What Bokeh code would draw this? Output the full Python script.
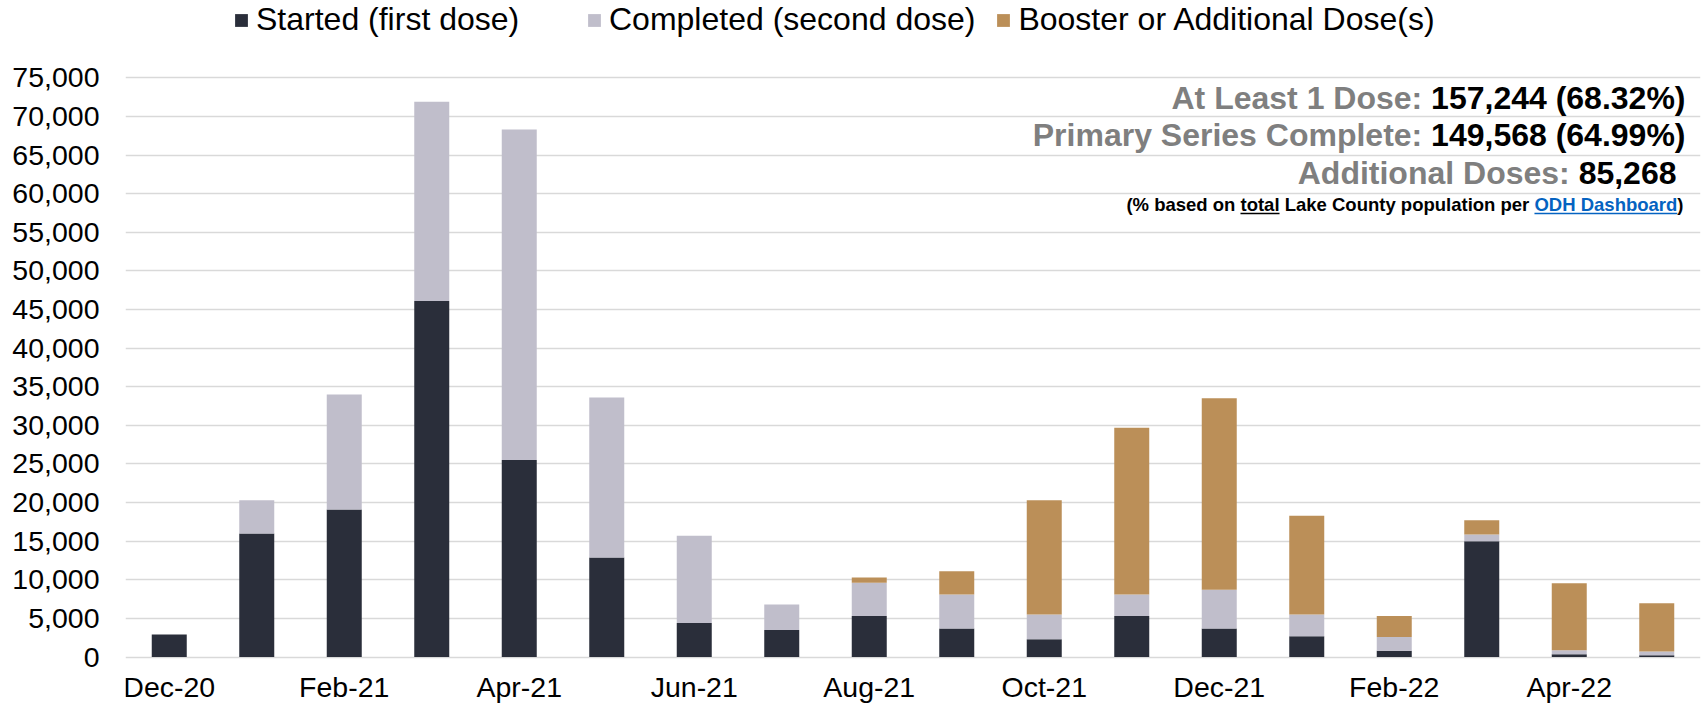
from bokeh.plotting import figure
from bokeh.models import ColumnDataSource, Range1d, FixedTicker, NumeralTickFormatter, Label
from bokeh.core.properties import value
from bokeh.embed import file_html
from bokeh.resources import INLINE

# ---------------- data ----------------
months = ["Dec-20", "Jan-21", "Feb-21", "Mar-21", "Apr-21", "May-21", "Jun-21", "Jul-21",
          "Aug-21", "Sep-21", "Oct-21", "Nov-21", "Dec-21", "Jan-22", "Feb-22", "Mar-22",
          "Apr-22", "May-22"]
started = [2900, 16000, 19100, 46100, 25500, 12900, 4400, 3500, 5300, 3700,
           2300, 5300, 3700, 2700, 800, 15000, 350, 220]
completed = [0, 4300, 14900, 25800, 42800, 20700, 11300, 3300, 4300, 4400,
             3200, 2800, 5000, 2800, 1800, 850, 520, 480]
booster = [0, 0, 0, 0, 0, 0, 0, 0, 700, 3000,
           14800, 21600, 24800, 12800, 2700, 1850, 8680, 6250]
series_names = ["Started (first dose)", "Completed (second dose)", "Booster or Additional Dose(s)"]
y_ticks = list(range(0, 75001, 5000))
x_tick_idx = list(range(0, len(months), 2))
x_tick_labels = [months[i] for i in x_tick_idx]

summary_labels = ["At Least 1 Dose:", "Primary Series Complete:", "Additional Doses:"]
summary_values = ["157,244 (68.32%)", "149,568 (64.99%)", "85,268"]
note_parts = [("(% based on", False, "#000000"), ("total", True, "#000000"),
              ("Lake County population per", False, "#000000"),
              ("ODH Dashboard", True, "#0563C1"), (")", False, "#000000")]

# ---------------- layout ----------------
W, H = 1707, 704
LEFT = 125
RIGHT = 7
FRAME_W = W - LEFT - RIGHT
Y_ZERO_PX = 656.5      # page y of value 0
Y_TOP_PX = 77.3        # page y of value 75,000
K = (Y_ZERO_PX - Y_TOP_PX) / 75000.0
Y0 = -(H - Y_ZERO_PX) / K
Y1 = 75000 + Y_TOP_PX / K
FONT = "Liberation Sans"
AX_SIZE = 28.5
SHIFT = 0.375          # empirical baseline correction (em)
colors = ["#2A2E3A", "#C0BECB", "#BB8F58"]

src = ColumnDataSource(dict(x=list(range(len(months))), started=started,
                            completed=completed, booster=booster))

p = figure(width=W, height=H, output_backend="svg", toolbar_location=None, title=None,
           x_range=Range1d(-0.5, len(months) - 0.5), y_range=Range1d(Y0, Y1),
           min_border_left=LEFT, min_border_right=RIGHT, min_border_top=0,
           min_border_bottom=0)
p.outline_line_color = None
p.background_fill_color = "white"
p.border_fill_color = "white"

p.vbar_stack(["started", "completed", "booster"], x="x", width=0.40, color=colors,
             line_color=None, source=src, legend_label=series_names)

# axes
yt = FixedTicker(ticks=y_ticks)
p.yaxis.ticker = yt
p.ygrid.ticker = yt
p.yaxis.formatter = NumeralTickFormatter(format="0,0")
p.ygrid.grid_line_color = "#D9D9D9"
p.ygrid.grid_line_width = 1.5
p.xgrid.visible = False
p.xaxis.visible = False
p.yaxis.axis_line_color = None
p.yaxis.major_tick_line_color = None
p.yaxis.minor_tick_line_color = None
p.yaxis.major_tick_out = 0
p.yaxis.major_tick_in = 0
p.yaxis.major_label_text_font = FONT
p.yaxis.major_label_text_font_size = f"{AX_SIZE}px"
p.yaxis.major_label_text_color = "#000000"
p.yaxis.major_label_standoff = 26


def px_x(page_x):
    return -0.5 + (page_x - LEFT) * len(months) / FRAME_W


def px_y(page_y):
    return (Y_ZERO_PX - page_y) / K


# category labels on the x axis (every second month)
xl_src = ColumnDataSource(dict(x=x_tick_idx, y=[px_y(697 - SHIFT * AX_SIZE)] * len(x_tick_idx),
                               text=x_tick_labels))
p.text(x="x", y="y", text="text", source=xl_src, text_align="center",
       text_baseline="alphabetic", text_font=value(FONT), text_font_size=f"{AX_SIZE}px",
       text_color="#000000")

# legend
leg = p.legend[0]
leg.orientation = "horizontal"
leg.location = (108, H - 38)
leg.label_text_font = FONT
leg.label_text_font_size = "32px"
leg.label_text_color = "#000000"
leg.glyph_width = 16
leg.glyph_height = 16
leg.label_standoff = 7
leg.label_width = 310
leg.spacing = 20
leg.padding = 0
leg.margin = 0
leg.border_line_color = None
leg.background_fill_alpha = 0

# ---------------- summary annotation ----------------
BOLD_W = {" ": 278, "!": 333, "(": 333, ")": 333, "%": 889, ",": 278, "-": 333, ".": 278,
          ":": 333, "A": 722, "B": 722, "C": 722, "D": 722, "E": 667, "F": 611, "G": 778,
          "H": 722, "I": 278, "L": 611, "O": 778, "P": 667, "S": 667, "a": 556, "b": 611,
          "c": 556, "d": 611, "e": 556, "f": 333, "g": 611, "h": 611, "i": 278, "k": 556,
          "l": 278, "m": 889, "n": 611, "o": 611, "p": 611, "r": 389, "s": 556, "t": 333,
          "u": 611, "v": 556, "w": 778, "x": 556, "y": 556}


def bold_width(s, size):
    return sum(BOLD_W.get(c, 556) for c in s) / 1000.0 * size


def bold_label(x_page, base_page, text, size, color):
    return Label(x=px_x(x_page), y=px_y(base_page - SHIFT * size), text=text,
                 text_align="right", text_baseline="alphabetic", text_font=FONT,
                 text_font_style="bold", text_font_size=f"{size}px", text_color=color)


rows = [(1685, 109.5), (1685, 146.5), (1676, 184.5)]
for (right, base), lab, val in zip(rows, summary_labels, summary_values):
    size = 32
    vw = bold_width(val, size)
    sp = bold_width(" ", size)
    p.add_layout(bold_label(right, base, val, size, "#000000"))
    p.add_layout(bold_label(right - vw - sp, base, lab, size, "#7F7F7F"))

note_size = 18.5
note_right = 1683
note_base = 210.5
cur = note_right
for i in range(len(note_parts) - 1, -1, -1):
    txt, underline, col = note_parts[i]
    w = bold_width(txt, note_size)
    p.add_layout(bold_label(cur, note_base, txt, note_size, col))
    if underline:
        uy = px_y(note_base + 2.5)
        p.segment(x0=[px_x(cur - w)], x1=[px_x(cur)], y0=[uy], y1=[uy],
                  line_color=col, line_width=1.5)
    cur = cur - w
    if i > 0 and txt != ")" and note_parts[i - 1][0] != "ODH Dashboard":
        cur -= bold_width(" ", note_size)

open("out.html", "w").write(file_html(p, INLINE))
